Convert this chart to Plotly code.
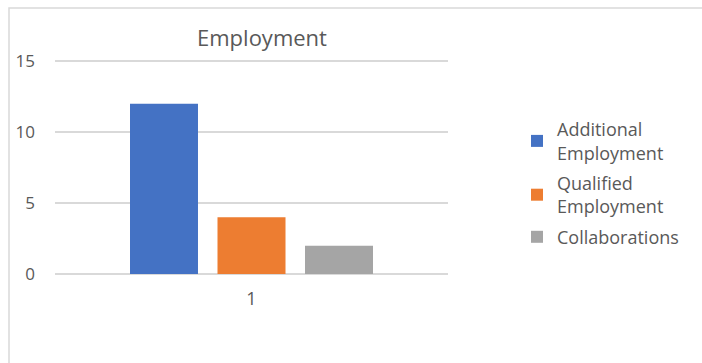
import plotly.graph_objects as go

categories = ["1"]
series_names = ["Additional<br>Employment", "Qualified<br>Employment", "Collaborations"]
additional = [12]
qualified = [4]
collaborations = [2]
colors = ["#4472C4", "#ED7D31", "#A5A5A5"]
y_ticks = [0, 5, 10, 15]

fig = go.Figure()
for i, (name, vals, c) in enumerate(zip(series_names, [additional, qualified, collaborations], colors)):
    fig.add_trace(go.Bar(x=categories, y=vals, name=name, legendgroup=f"g{i}",
                         marker=dict(color=c, line=dict(width=0))))

L, R, T, B = 55, 254, 57, 89
W, H = 702, 363
pw, ph = W - L - R, H - T - B

def px(x):
    return (x - L) / pw

def py(y):
    return (H - B - y) / ph

fig.update_layout(
    width=W, height=H,
    margin=dict(l=L, r=R, t=T, b=B),
    paper_bgcolor="white", plot_bgcolor="white",
    font=dict(family="Open Sans", color="#595959", size=17),
    title=dict(text="Employment", x=262 / W, xanchor="center", y=1 - 38 / H, yanchor="middle",
               font=dict(size=22, color="#595959")),
    barmode="group", bargap=0.332, bargroupgap=0.223,
    showlegend=True,
    legend=dict(x=px(517), xanchor="left", y=py(111), yanchor="top",
                font=dict(size=18, color="#595959"), itemwidth=30, tracegroupgap=4,
                bgcolor="rgba(0,0,0,0)"),
    xaxis=dict(type="category", showgrid=False, showline=False, ticks="",
               tickfont=dict(size=18), ticklabelstandoff=12),
    yaxis=dict(range=[0, 15.3], tickvals=y_ticks, showgrid=True, gridcolor="#D9D9D9", gridwidth=1.5,
               zeroline=True, zerolinecolor="#D9D9D9", zerolinewidth=1.5, showline=False,
               ticks="", ticklabelstandoff=19, tickfont=dict(size=17)),
    shapes=[dict(type="rect", xref="paper", yref="paper",
                 x0=px(9), x1=px(720), y0=py(380), y1=py(8),
                 line=dict(color="#D9D9D9", width=1.5), fillcolor="rgba(0,0,0,0)", layer="below")],
)

fig.write_html("out.html", config={"displayModeBar": False},
               post_script="document.body.style.margin='0';")
